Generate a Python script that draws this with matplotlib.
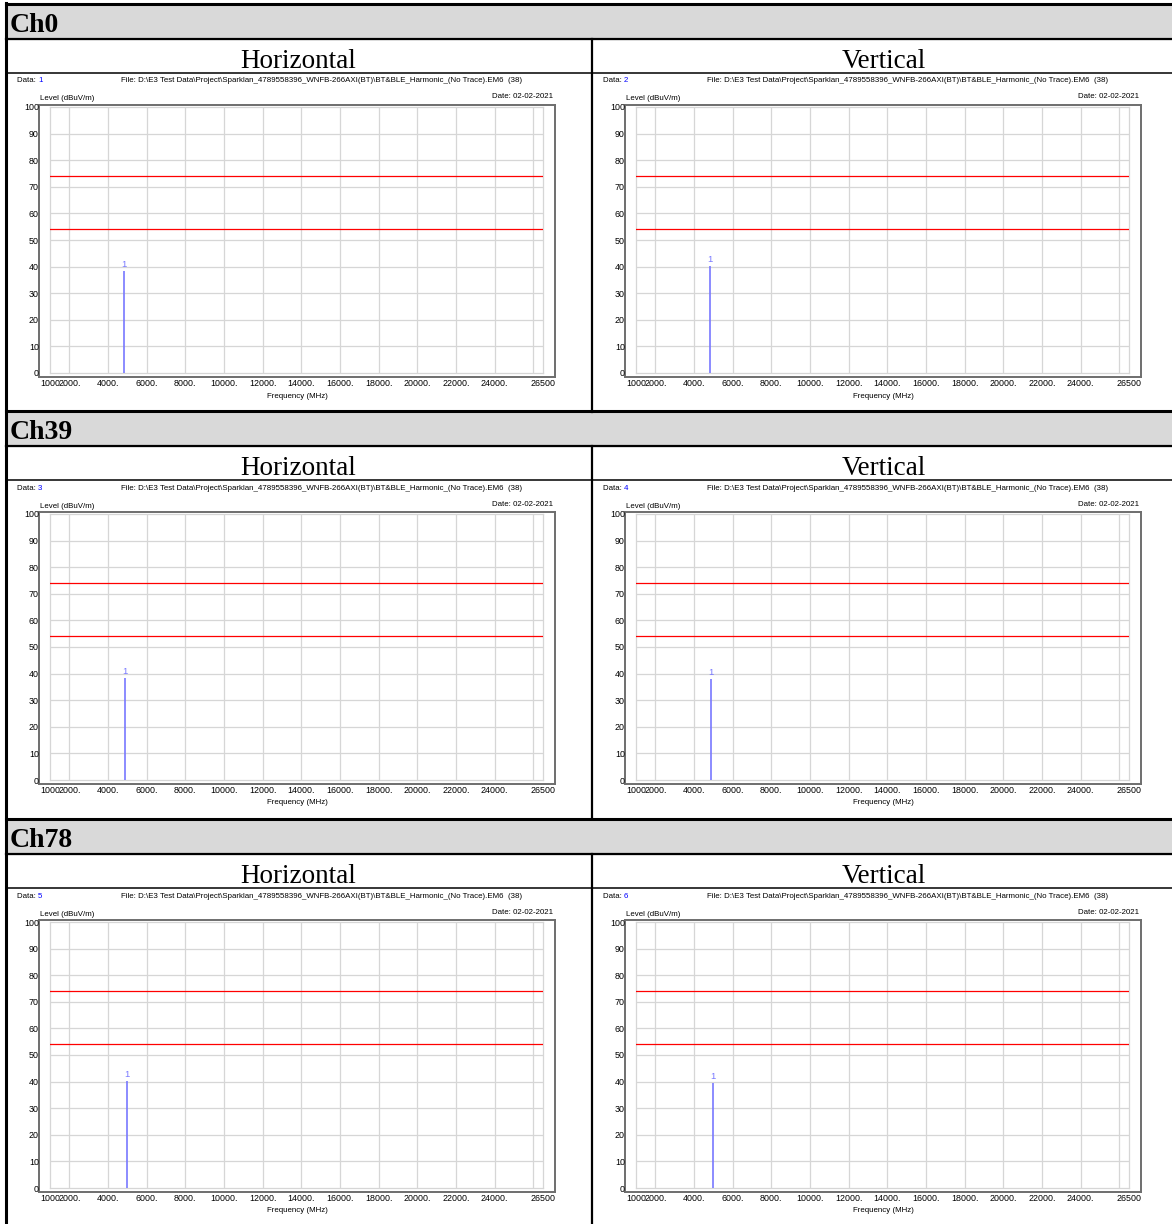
import matplotlib
matplotlib.use('Agg')
import matplotlib.pyplot as plt
import numpy as np

# values
channels = ['Ch0', 'Ch39', 'Ch78']
polarizations = ['Horizontal', 'Vertical']
data_ids = [[1, 2], [3, 4], [5, 6]]
peak_freq = [4804, 4882, 4960]          # MHz, 2nd harmonic
peak_level = [[38.3, 40.1], [38.2, 37.9], [40.1, 39.3]]   # dBuV/m
limit_lines = [74, 54]                  # peak / average limit
x_ticks = [1000, 2000, 4000, 6000, 8000, 10000, 12000, 14000, 16000,
           18000, 20000, 22000, 24000, 26500]
x_tick_labels = ['1000', '2000.', '4000.', '6000.', '8000.', '10000.', '12000.',
                 '14000.', '16000.', '18000.', '20000.', '22000.', '24000.', '26500']
x_grid = list(range(2000, 26001, 2000))
y_ticks = list(range(0, 101, 10))
file_text = r'File: D:\E3 Test Data\Project\Sparklan_4789558396_WNFB-266AXI(BT)\BT&BLE_Harmonic_(No Trace).EM6  (38)'
date_text = 'Date: 02-02-2021'

W, H = 1172, 1224
fig = plt.figure(figsize=(W / 100, H / 100), dpi=100)
narrow = ['Liberation Sans Narrow', 'Liberation Sans', 'DejaVu Sans']
serif = ['Liberation Serif', 'DejaVu Serif']
small = 5.7   # header texts of each plot
tick_fs = 6.4


def rect(x0, y0, x1, y1):
    return [x0 / W, 1 - y1 / H, (x1 - x0) / W, (y1 - y0) / H]


bg = fig.add_axes([0, 0, 1, 1])
bg.set_xlim(0, W)
bg.set_ylim(H, 0)
bg.axis('off')

block_tops = [4, 411, 819]
col_off = [0, 586]

for b, top in enumerate(block_tops):
    # header row
    bg.fill_between([6, W], top, top + 35, color='#d9d9d9', zorder=0)
    bg.plot([6, W], [top, top], color='black', lw=2.2, zorder=3)
    bg.plot([6, W], [top + 35, top + 35], color='black', lw=1.6, zorder=3)
    bg.plot([6, W], [top + 69, top + 69], color='black', lw=1.1, zorder=3)
    bg.plot([592, 592], [top + 35, top + 408], color='black', lw=1.6, zorder=3)
    bg.text(10, top + 28, channels[b], family=serif, fontweight='bold',
            fontsize=20, ha='left', va='baseline')
    for c in range(2):
        bg.text(298 + col_off[c], top + 64, polarizations[c], family=serif,
                fontsize=19.5, ha='center', va='baseline')

        ox = col_off[c]
        oy = top + 69
        # header texts of the plot
        t = bg.text(17 + ox, oy + 8, 'Data: ', family=narrow, fontsize=small,
                    ha='left', va='center')
        bg.annotate(str(data_ids[b][c]), xycoords=t, xy=(1, 0.5), va='center',
                    ha='left', family=narrow, fontsize=small, color='#0000ff')
        bg.text(322 + ox, oy + 8, file_text, family=narrow, fontsize=small,
                ha='center', va='center')
        bg.text(553 + ox, oy + 24, date_text, family=narrow, fontsize=small,
                ha='right', va='center')
        bg.text(40 + ox, oy + 26, 'Level (dBuV/m)', family=narrow, fontsize=small,
                ha='left', va='center')
        bg.text(297 + ox, oy + 323, 'Frequency (MHz)', family=narrow,
                fontsize=small, ha='center', va='center')

        frame = fig.add_axes(rect(39 + ox, oy + 32, 555 + ox, oy + 304))
        frame.set_xticks([])
        frame.set_yticks([])
        for s in frame.spines.values():
            s.set_color('#6e6e6e')
            s.set_linewidth(1.4)

        ax = fig.add_axes(rect(50 + ox, oy + 34, 543 + ox, oy + 300))
        ax.patch.set_alpha(0)
        ax.set_xlim(1000, 26500)
        ax.set_ylim(0, 100)
        for g in x_grid:
            ax.axvline(g, color='#d6d6d6', lw=0.9, zorder=1)
        for g in y_ticks[1:-1]:
            ax.axhline(g, color='#d6d6d6', lw=0.9, zorder=1)
        for s in ax.spines.values():
            s.set_color('#d6d6d6')
            s.set_linewidth(0.9)
        for lim in limit_lines:
            ax.axhline(lim, color='#ff0000', lw=0.9, zorder=3)
        f = peak_freq[b]
        lv = peak_level[b][c]
        ax.vlines(f, 0, lv, color='#7878ff', lw=1.2, zorder=4)
        ax.annotate('1', (f, lv), xytext=(0, 5), textcoords='offset points',
                    ha='center', va='center', family=narrow, fontsize=6.8,
                    color='#7878ff')
        ax.set_xticks(x_ticks)
        ax.set_xticklabels(x_tick_labels, family=narrow, fontsize=tick_fs)
        ax.set_yticks(y_ticks)
        ax.set_yticklabels([str(v) for v in y_ticks], family=narrow, fontsize=tick_fs)
        ax.tick_params(axis='x', length=0, pad=4.5)
        ax.tick_params(axis='y', length=0, pad=8)

bg.plot([6, 6], [3, H], color='black', lw=2.2, zorder=3)

fig.savefig('out.png', dpi=100)
